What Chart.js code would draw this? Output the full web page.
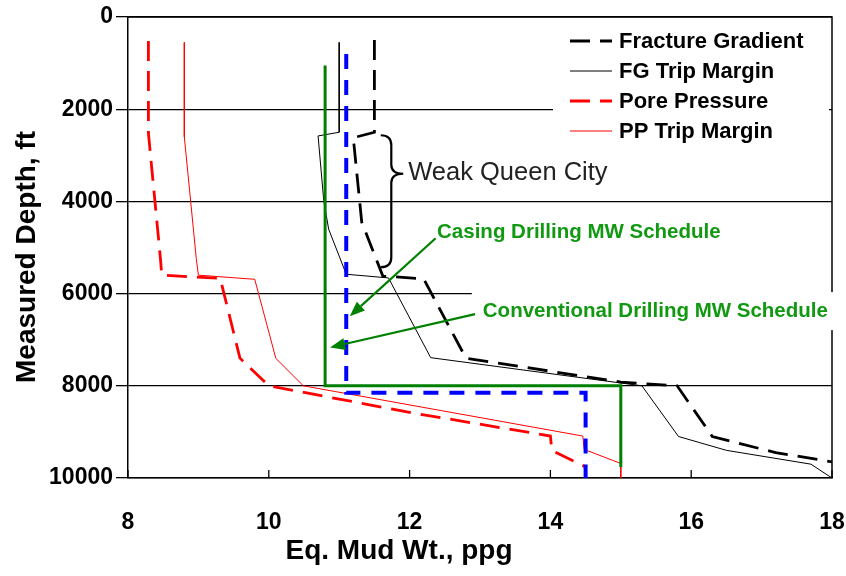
<!DOCTYPE html>
<html>
<head>
<meta charset="utf-8">
<script src="https://cdn.jsdelivr.net/npm/chart.js@4.4.1/dist/chart.umd.min.js"></script>
<style>
  html, body { margin: 0; padding: 0; background: #fff; }
  #wrap { width: 846px; height: 576px; }
</style>
</head>
<body>
<div id="wrap"><canvas id="mudChart" width="846" height="576"></canvas></div>
<script>
// mud weights (ppg) and measured depths (ft)
const fgMw        = [11.5, 11.5, 11.2, 11.32, 11.62, 12.2, 12.8, 15.0, 15.8, 16.3, 17.2, 18.0];
const fgDepth     = [500, 2500, 2620, 4450, 5620, 5680, 7400, 7920, 8000, 9100, 9450, 9650];
const fgTripMw    = [11.0, 11.0, 10.7, 10.78, 10.85, 11.1, 11.7, 12.3, 15.3, 15.82, 16.5, 17.7, 18.0];
const fgTripDepth = [550, 2500, 2580, 3975, 4600, 5580, 5660, 7390, 8000, 9100, 9400, 9700, 10000];
const ppMw        = [8.29, 8.29, 8.46, 8.48, 9.31, 9.59, 10.0, 12.03, 14.0, 14.02, 14.5, 14.5];
const ppDepth     = [520, 2520, 5230, 5600, 5670, 7400, 8000, 8585, 9090, 9400, 9760, 10000];
const ppTripMw    = [8.8, 8.8, 8.97, 9.0, 9.8, 10.1, 10.49, 14.46, 14.48, 15.0, 15.0];
const ppTripDepth = [550, 2600, 5240, 5600, 5690, 7405, 8000, 9090, 9380, 9685, 10000];
const casingMw    = [11.1, 11.1, 14.5, 14.5];
const casingDepth = [800, 8150, 8150, 10000];
const convMw      = [10.8, 10.8, 15.0, 15.0];
const convDepth   = [1050, 8000, 8000, 9760];

const mwTicks    = [8, 10, 12, 14, 16, 18];
const depthTicks = [0, 2000, 4000, 6000, 8000, 10000];
const legendLabels = ['Fracture Gradient', 'FG Trip Margin', 'Pore Pressure', 'PP Trip Margin'];

const FONT = "'Liberation Sans', Arial, sans-serif";
const GREEN = '#008000';
const GREEN_TEXT = '#119911';

const pairs = (xs, ys) => xs.map((x, i) => ({ x: x, y: ys[i] }));

const datasets = [
  { label: 'Conventional Drilling MW Schedule', data: pairs(convMw, convDepth), borderColor: GREEN, borderWidth: 3 },
  { label: 'Casing Drilling MW Schedule', data: pairs(casingMw, casingDepth), borderColor: '#0000ff', borderWidth: 4, borderDash: [15, 11] },
  { label: 'Fracture Gradient', data: pairs(fgMw, fgDepth), borderColor: '#000', borderWidth: 2.8, borderDash: [20, 10] },
  { label: 'FG Trip Margin', data: pairs(fgTripMw, fgTripDepth), borderColor: '#000', borderWidth: 1 },
  { label: 'Pore Pressure', data: pairs(ppMw, ppDepth), borderColor: '#ff0000', borderWidth: 2.8, borderDash: [20, 10] },
  { label: 'PP Trip Margin', data: pairs(ppTripMw, ppTripDepth), borderColor: '#ff0000', borderWidth: 1 }
];

// annotation anchors in data units (ppg, ft)
const notes = {
  weak:   { x: 11.98, y: 3390, text: 'Weak Queen City' },
  casing: { x: 12.39, y: 4670, text: 'Casing Drilling MW Schedule', tail: [12.37, 4800], tip: [11.15, 6490] },
  conv:   { x: 13.04, y: 6380, text: 'Conventional Drilling MW Schedule', tail: [12.93, 6445], tip: [10.87, 7167] },
  brace:  { x0: 11.59, spine: 11.74, tipX: 11.91, top: 2565, mid: 3400, bottom: 5426 }
};

const arrow = (ctx, x0, y0, x1, y1) => {
  const ang = Math.atan2(y1 - y0, x1 - x0);
  const len = 15, half = 6;
  const bx = x1 - len * Math.cos(ang), by = y1 - len * Math.sin(ang);
  ctx.beginPath();
  ctx.moveTo(x0, y0);
  ctx.lineTo(bx, by);
  ctx.stroke();
  ctx.beginPath();
  ctx.moveTo(x1, y1);
  ctx.lineTo(bx + half * Math.sin(ang), by - half * Math.cos(ang));
  ctx.lineTo(bx - half * Math.sin(ang), by + half * Math.cos(ang));
  ctx.closePath();
  ctx.fill();
};

const decor = {
  id: 'decor',
  beforeDatasetsDraw(chart) {
    const { ctx, chartArea: a, scales: { x } } = chart;
    ctx.save();
    ctx.strokeStyle = '#000';
    ctx.lineWidth = 1.5;
    ctx.beginPath();
    ctx.moveTo(a.left, a.top);
    ctx.lineTo(a.right, a.top);
    ctx.lineTo(a.right, a.bottom);
    ctx.stroke();
    ctx.lineWidth = 1.3;
    x.ticks.forEach(t => {
      const px = x.getPixelForValue(t.value);
      ctx.beginPath();
      ctx.moveTo(px, a.bottom);
      ctx.lineTo(px, a.bottom - 8);
      ctx.stroke();
    });
    // white boxes behind the legend and the lower label, as in the original
    ctx.fillStyle = '#fff';
    ctx.fillRect(a.right - 279, a.top + 6, 276, 128);
    const cx = x.getPixelForValue(notes.conv.x);
    const cy = chart.scales.y.getPixelForValue(notes.conv.y);
    ctx.fillRect(cx - 11, cy - 19, a.right + 6 - (cx - 11), 38);
    ctx.restore();
  },
  afterDatasetsDraw(chart) {
    const { ctx, chartArea: a, scales: { x, y } } = chart;
    ctx.save();

    // legend
    const rowTop = a.top + 24, rowGap = 30;
    ctx.font = 'bold 22px ' + FONT;
    ctx.textBaseline = 'middle';
    ctx.textAlign = 'left';
    legendLabels.forEach((lab, i) => {
      const ds = chart.data.datasets.find(d => d.label === lab);
      const ly = rowTop + i * rowGap;
      ctx.strokeStyle = ds.borderColor;
      ctx.lineWidth = ds.borderWidth;
      ctx.setLineDash(ds.borderDash || []);
      ctx.beginPath();
      ctx.moveTo(a.right - 262, ly);
      ctx.lineTo(a.right - 220, ly);
      ctx.stroke();
      ctx.setLineDash([]);
      ctx.fillStyle = '#000';
      ctx.fillText(lab, a.right - 213, ly + 1);
    });

    // brace
    const b = notes.brace;
    const bx0 = x.getPixelForValue(b.x0), bs = x.getPixelForValue(b.spine), bt = x.getPixelForValue(b.tipX);
    const yt = y.getPixelForValue(b.top), ym = y.getPixelForValue(b.mid), yb = y.getPixelForValue(b.bottom);
    ctx.strokeStyle = '#000';
    ctx.lineWidth = 2.2;
    ctx.beginPath();
    ctx.moveTo(bx0, yt);
    ctx.quadraticCurveTo(bs, yt, bs, yt + 10);
    ctx.lineTo(bs, ym - 9);
    ctx.quadraticCurveTo(bs, ym, bt, ym);
    ctx.quadraticCurveTo(bs, ym, bs, ym + 9);
    ctx.lineTo(bs, yb - 10);
    ctx.quadraticCurveTo(bs, yb, bx0, yb);
    ctx.stroke();

    ctx.fillStyle = '#222';
    ctx.font = '25.5px ' + FONT;
    ctx.fillText(notes.weak.text, x.getPixelForValue(notes.weak.x), y.getPixelForValue(notes.weak.y));

    // green call-outs
    ctx.fillStyle = GREEN;
    ctx.strokeStyle = GREEN;
    ctx.lineWidth = 2.2;
    [notes.casing, notes.conv].forEach(n => {
      arrow(ctx, x.getPixelForValue(n.tail[0]), y.getPixelForValue(n.tail[1]),
                 x.getPixelForValue(n.tip[0]), y.getPixelForValue(n.tip[1]));
    });
    ctx.fillStyle = GREEN_TEXT;
    ctx.font = 'bold 20.5px ' + FONT;
    [notes.casing, notes.conv].forEach(n => {
      ctx.fillText(n.text, x.getPixelForValue(n.x), y.getPixelForValue(n.y));
    });

    // axis titles
    ctx.fillStyle = '#000';
    ctx.font = 'bold 28px ' + FONT;
    ctx.textAlign = 'center';
    ctx.fillText('Eq. Mud Wt., ppg', 399, 551);
    ctx.translate(27, 257);
    ctx.rotate(-Math.PI / 2);
    ctx.fillText('Measured Depth, ft', 0, 0);
    ctx.restore();
  }
};

const tickFont = { family: FONT, size: 23, weight: 'bold' };

new Chart('mudChart', {
  type: 'line',
  data: { datasets },
  options: {
    responsive: false,
    animation: false,
    layout: { padding: { top: 17, right: 14, left: 0, bottom: 0 } },
    elements: { point: { radius: 0 }, line: { tension: 0, borderCapStyle: 'butt' } },
    plugins: { legend: { display: false }, tooltip: { enabled: false } },
    scales: {
      x: {
        type: 'linear', min: 8, max: 18,
        afterBuildTicks: s => { s.ticks = mwTicks.map(v => ({ value: v })); },
        afterFit: s => { s.height = 98; s.paddingLeft = 0; s.paddingRight = 0; },
        grid: { drawOnChartArea: false, drawTicks: false },
        border: { color: '#000', width: 1.5 },
        ticks: { color: '#000', font: tickFont, padding: 31, maxRotation: 0, callback: v => String(v) }
      },
      y: {
        type: 'linear', reverse: true, min: 0, max: 10000,
        afterBuildTicks: s => { s.ticks = depthTicks.map(v => ({ value: v })); },
        afterFit: s => { s.width = 128; s.paddingTop = 0; s.paddingBottom = 0; },
        grid: { color: '#000', lineWidth: 1.3, tickLength: 12 },
        border: { color: '#000', width: 1.5 },
        ticks: { color: '#000', font: tickFont, padding: 3, callback: v => String(v) }
      }
    }
  },
  plugins: [decor]
});
</script>
</body>
</html>
